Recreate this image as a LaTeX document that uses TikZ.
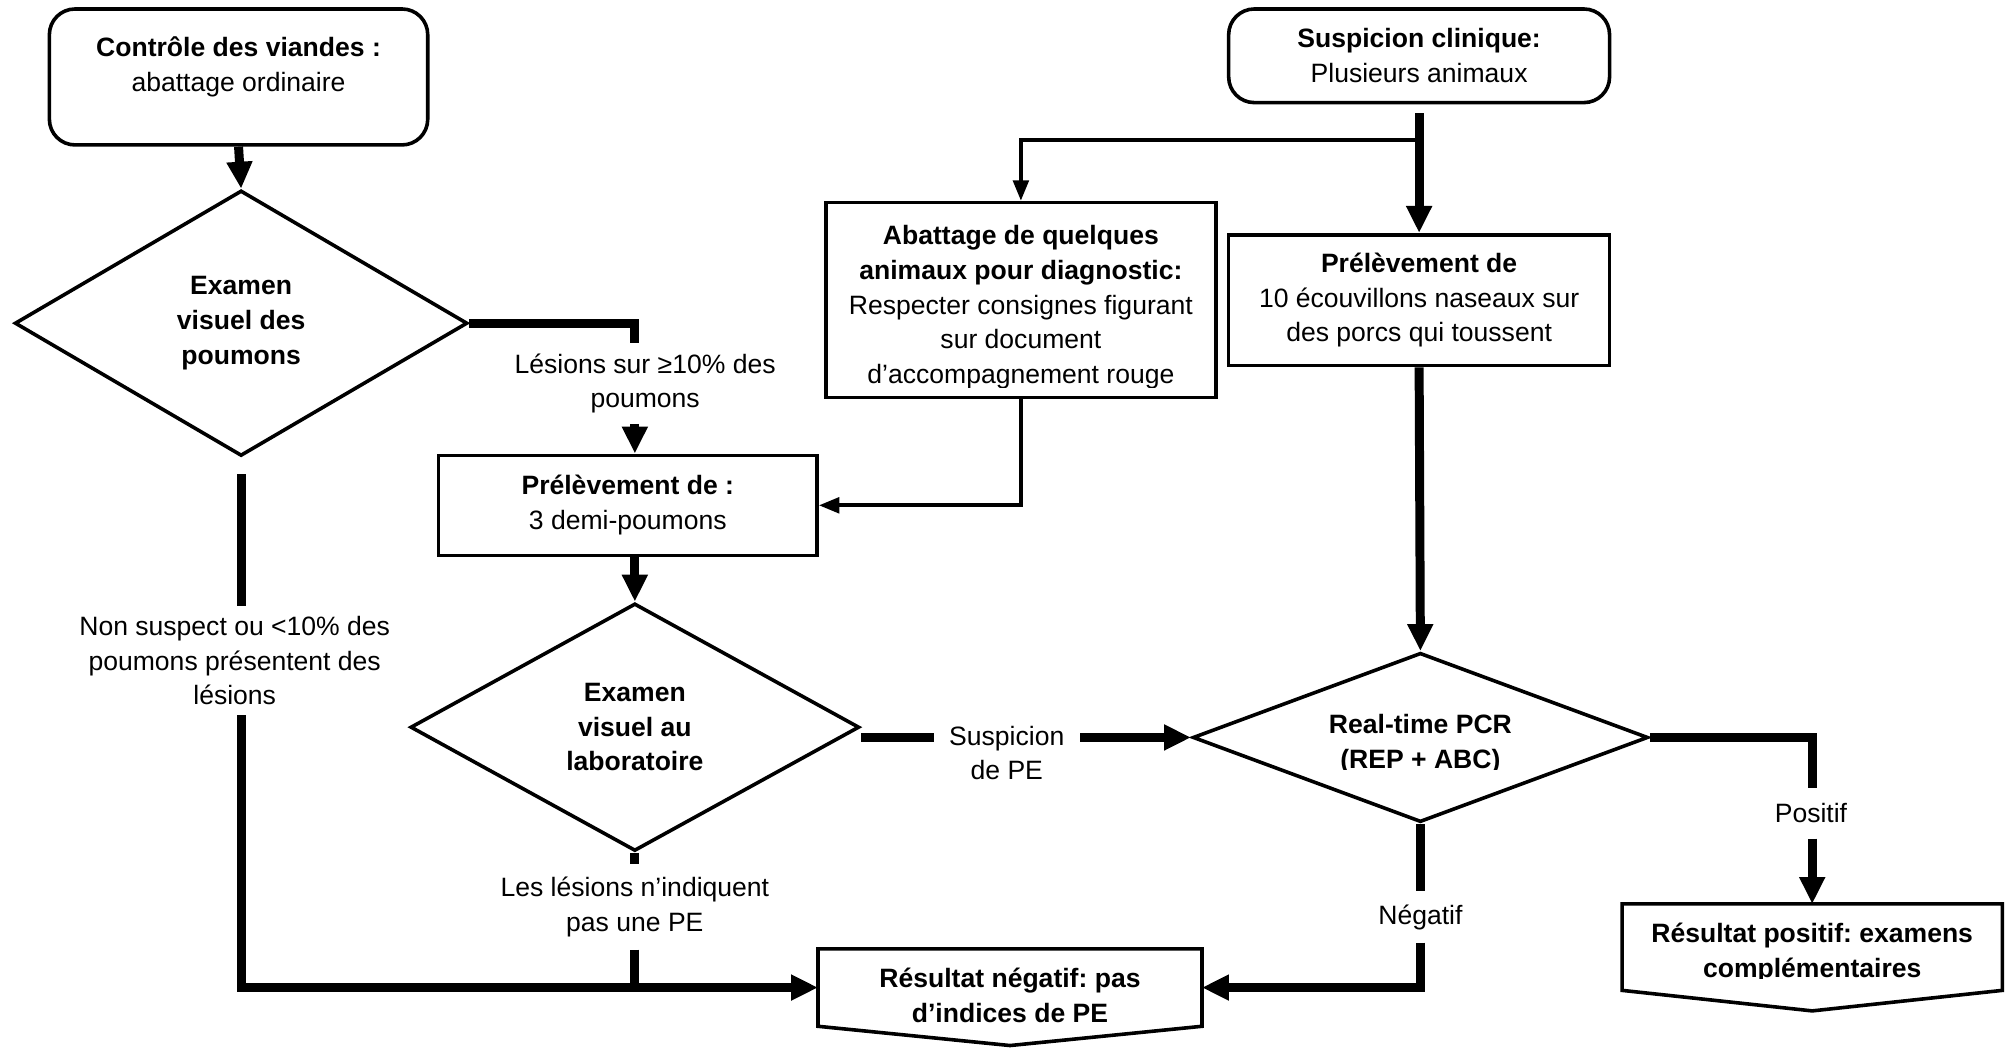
\documentclass[tikz,border=0pt]{standalone}
\usepackage{fontspec}
\setmainfont{Liberation Sans}
\usetikzlibrary{shapes.geometric,arrows.meta,calc}
\frenchspacing

\newcommand{\nodefont}{\fontsize{20.7}{27}\selectfont}

\begin{document}
\begin{tikzpicture}[x=1pt, y=-1pt,
    every node/.style={font=\nodefont, align=center},
    box/.style={draw, line width=2.8pt, inner sep=0pt},
    rbox/.style={box, rounded corners=20pt},
    decision/.style={draw, diamond, line width=2.8pt, inner sep=0pt, font=\nodefont\bfseries},
    result/.style={inner sep=0pt, font=\nodefont\bfseries},
    lbl/.style={inner xsep=4pt, inner ysep=8pt},
    thickline/.style={line width=7pt},
    thickarrow/.style={thickline, ->, >={Triangle[length=21pt,width=19pt]}},
    thinarrow/.style={line width=3.2pt, ->, >={Triangle[length=16pt,width=12pt]}}]

    \useasboundingbox (0,0) rectangle (1568,817);

    %colonne gauche
    \node[rbox, minimum width=295, minimum height=106] (ctrl) at (186,60) {};
    \node (ctrltxt) at (186,52) {\textbf{Contrôle des viandes :}\\abattage ordinaire};
    \node[decision, minimum width=353, minimum height=207, aspect=1.7] (exam1) at (188,252) {Examen\\visuel des\\poumons};
    \node[lbl] (nonsus) at (183,515) {Non suspect ou <10\% des\\poumons présentent des\\lésions};

    %prelevement poumons
    \node[lbl] (les1) at (503,299) {Lésions sur ≥10\% des\\poumons};
    \node[box, minimum width=295, minimum height=78] (prel1) at (489.5,394) {\textbf{Prélèvement de :}\\3 demi-poumons};
    \node[decision, minimum width=350, minimum height=193, aspect=1.8] (exam2) at (495,567) {Examen\\visuel au\\laboratoire};
    \node[lbl, inner ysep=10pt] (les2) at (495,707) {Les lésions n’indiquent\\pas une PE};
    \node[lbl, inner xsep=12pt] (susp) at (785,587) {Suspicion\\de PE};

    %suspicion clinique
    \node[rbox, minimum width=297, minimum height=73] (clin) at (1106.5,43.5) {\textbf{Suspicion clinique:}\\Plusieurs animaux};
    \coordinate (split) at ($(clin.south)+(0,28)$);
    \node[box, minimum width=304, minimum height=152] (abat) at (796,234) {};
    \begin{scope}
      \clip (abat.north west) rectangle (abat.east |- 0,302);
      \node (abattxt) at (796,239.5) {\textbf{Abattage de quelques}\\\textbf{animaux pour diagnostic:}\\Respecter consignes figurant\\sur document\\d’accompagnement rouge};
    \end{scope}
    \node[box, minimum width=297, minimum height=102] (prel2) at (1106.5,234) {\textbf{Prélèvement de}\\10 écouvillons naseaux sur\\des porcs qui toussent};
    \node[decision, minimum width=355, minimum height=132, aspect=2.7] (pcr) at (1107.5,575) {};
    \begin{scope}
      \clip (pcr.west |- 0,540) rectangle (pcr.east |- 0,600);
      \node[font=\nodefont\bfseries] (pcrtxt) at (1107.5,580) {Real-time PCR\\(REP + ABC)};
    \end{scope}
    \node[lbl, inner ysep=10pt] (negatif) at (1107.5,715) {Négatif};
    \node[lbl, inner ysep=12pt] (positif) at (1412,634) {Positif};

    %resultats
    \node[minimum width=299, minimum height=60, inner sep=0pt] (neg) at (787.5,770) {};
    \draw[line width=2.8pt] (neg.north west) -- (neg.north east) -- (neg.south east) -- ($(neg.south)+(0,15)$) -- (neg.south west) -- cycle;
    \begin{scope}
      \clip (neg.north west) rectangle (neg.east |- 0,797);
      \node[result] (negtxt) at (787.5,776) {Résultat négatif: pas\\d’indices de PE};
    \end{scope}
    \node[minimum width=296, minimum height=67, inner sep=0pt] (pos) at (1413,738.5) {};
    \draw[line width=2.8pt] (pos.north west) -- (pos.north east) -- (pos.south east) -- ($(pos.south)+(0,16)$) -- (pos.south west) -- cycle;
    \begin{scope}
      \clip (pos.north west) rectangle (pos.east |- 0,763);
      \node[result] (postxt) at (1413,743) {Résultat positif: examens\\complémentaires};
    \end{scope}

    %fleches gauche
    \draw[thickarrow] (ctrl.south) -- (exam1.north);
    \draw[thickline] (exam1.east) -| (exam2.north |- les1.north);
    \draw[thickarrow] (exam2.north |- les1.south) -- (exam2.north |- prel1.north);
    \draw[thickarrow] (exam2.north |- prel1.south) -- (exam2.north);
    \draw[thickline, shorten <=13pt] (exam1.south) -- (exam1.south |- nonsus.north);
    \draw[thickarrow] (exam1.south |- nonsus.south) |- (neg.west);
    \draw[thickline] (exam2.south) -- (les2.north);
    \draw[thickline] (les2.south) -- ($(exam2.south |- neg.west)+(0,3.5)$);
    \draw[thickline] (exam2.east |- pcr.west) -- (susp.west |- pcr.west);
    \draw[thickarrow] (susp.east |- pcr.west) -- (pcr.west);

    %fleches droite
    \draw[thickarrow, shorten <=7pt] (clin.south) -- (prel2.north);
    \draw[thinarrow] (split) -| (abat.north);
    \draw[thinarrow] (abat.south) |- (prel1.east);
    \draw[thickarrow] (prel2.south) -- (pcr.north);
    \draw[thickline] (pcr.south) -- (negatif.north);
    \draw[thickarrow] (negatif.south) |- (neg.east);
    \draw[thickline] (pcr.east) -| (pos.north |- positif.north);
    \draw[thickarrow] (pos.north |- positif.south) -- (pos.north);

\end{tikzpicture}
\end{document}
